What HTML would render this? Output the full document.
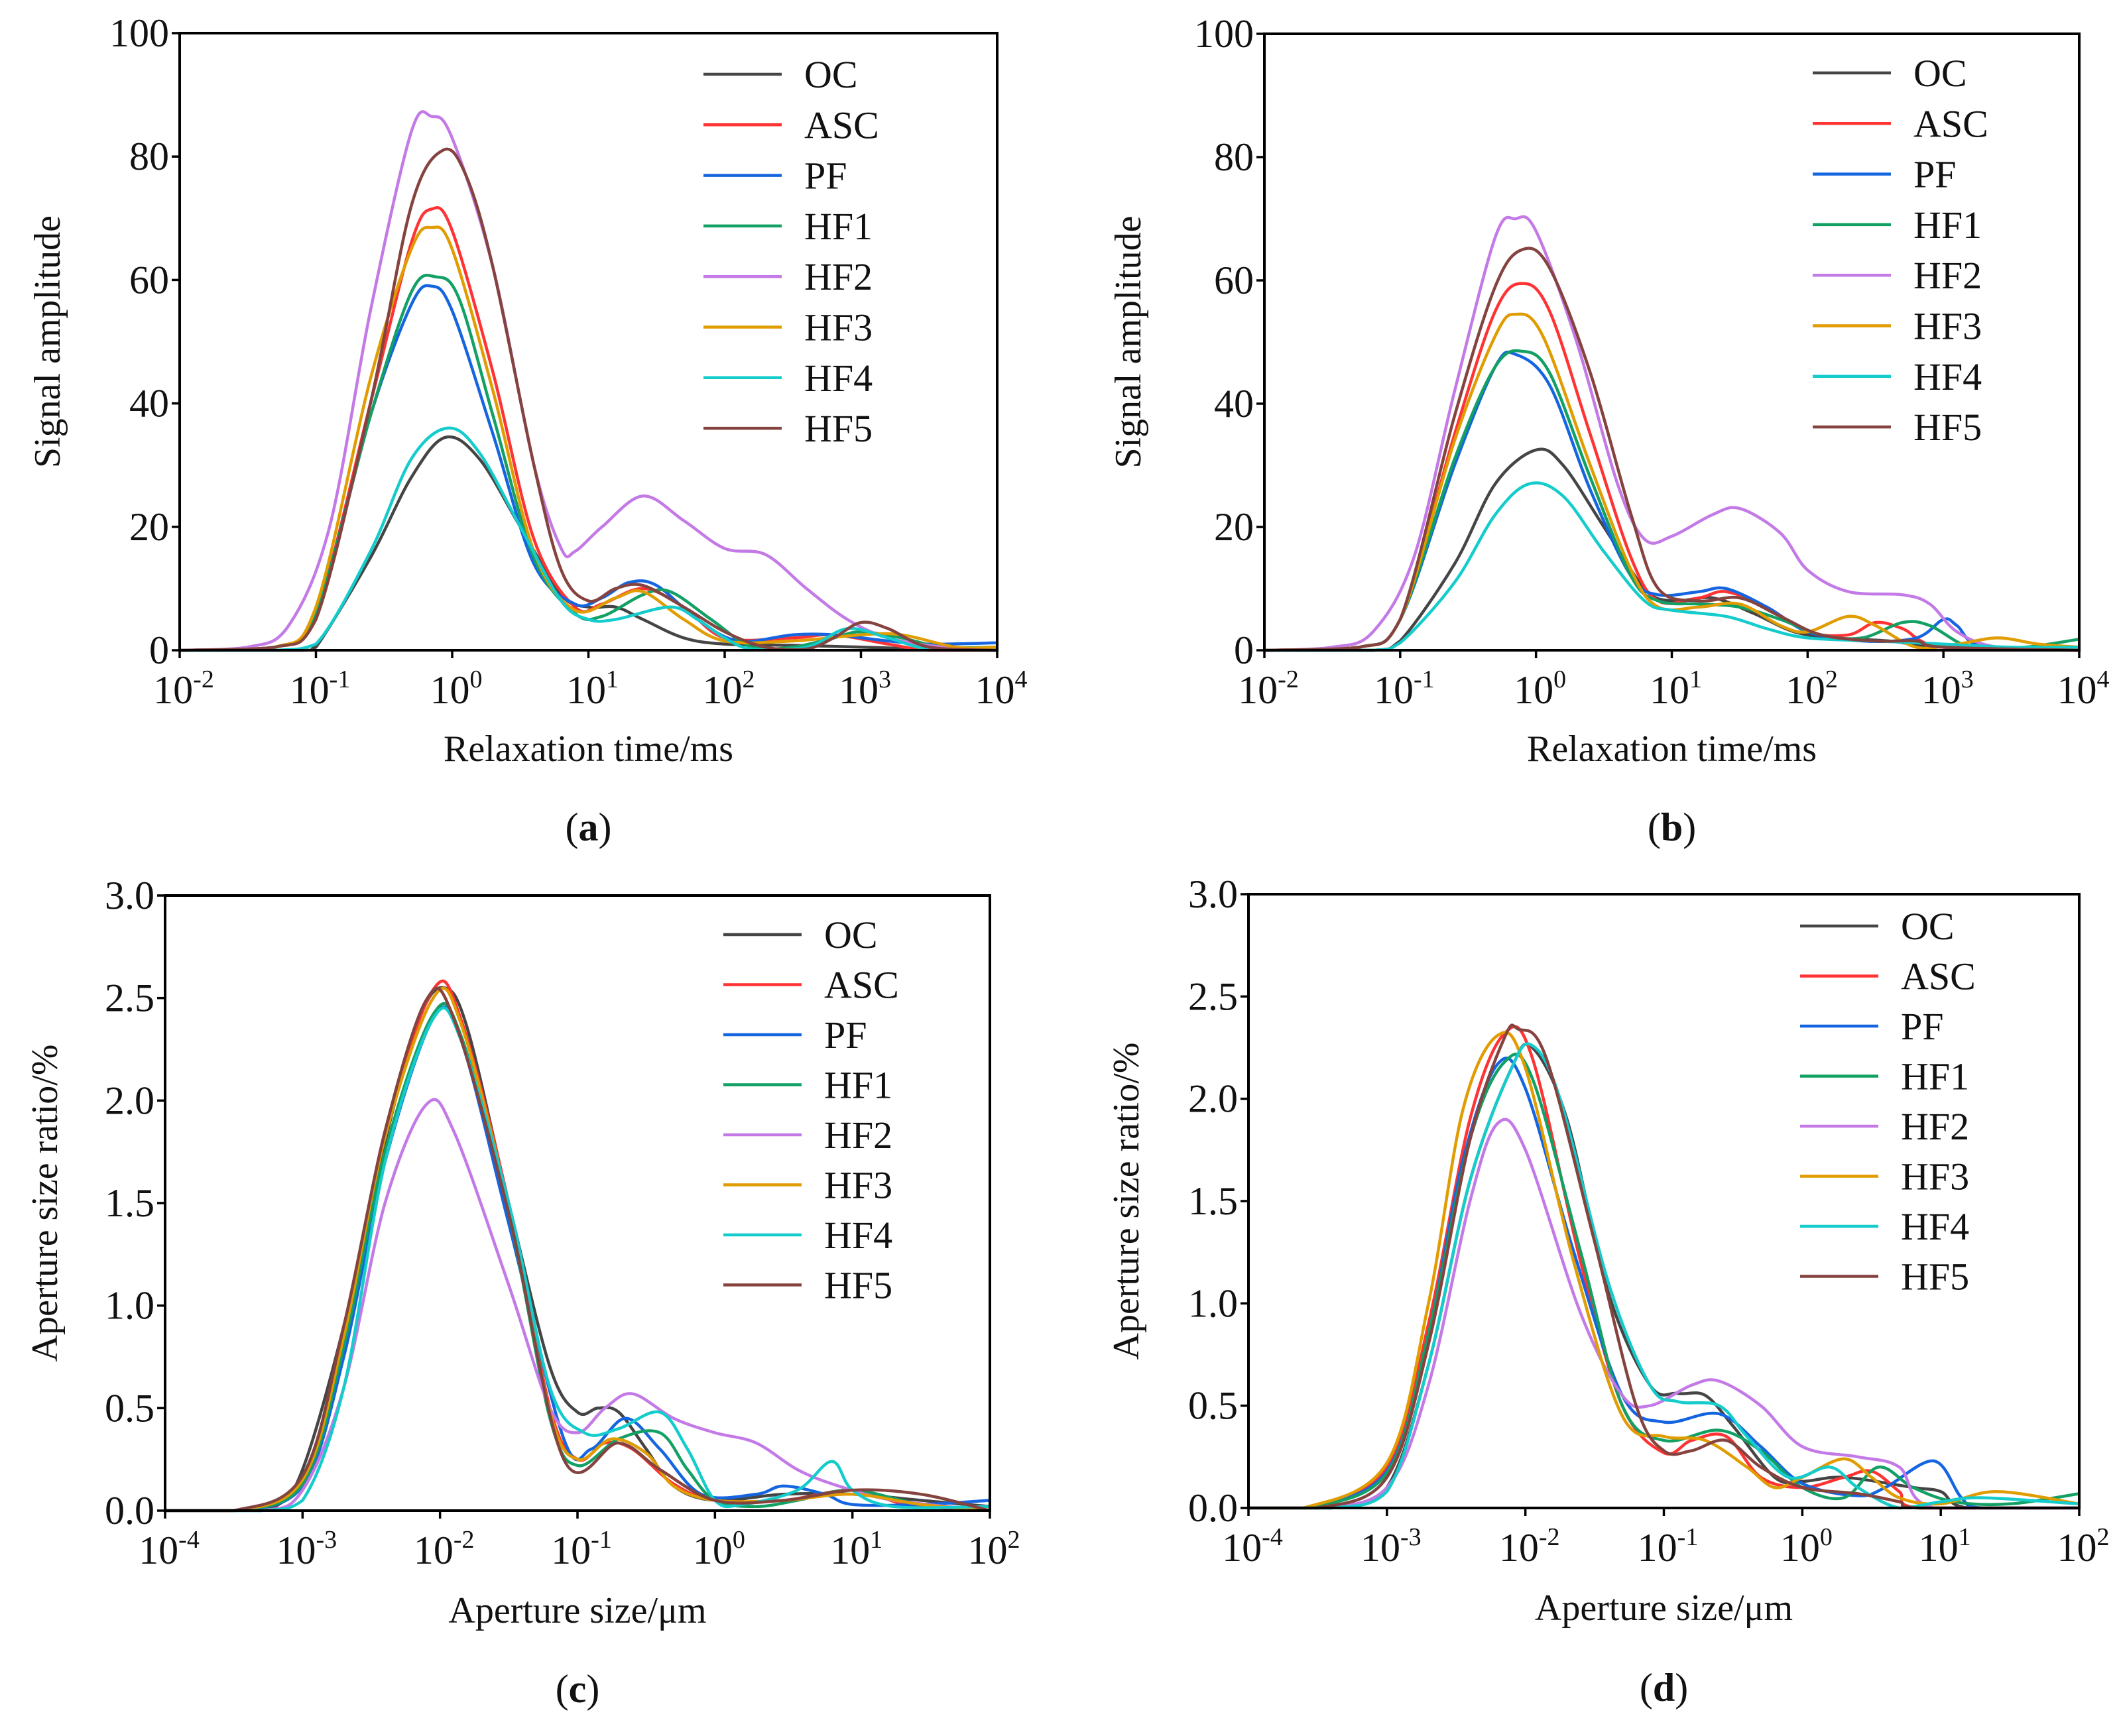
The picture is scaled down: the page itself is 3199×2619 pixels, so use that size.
<!DOCTYPE html>
<html><head><meta charset="utf-8"><style>
html,body{margin:0;padding:0;background:#fff;}
svg, svg text{font-family:"Liberation Serif","Times New Roman",serif;}
svg text{fill:#111;}
</style></head><body>
<svg id="fig" width="3199" height="2614" viewBox="0 0 3199 2614" font-family="Liberation Serif, serif" xmlns="http://www.w3.org/2000/svg"></svg>
<script>
const seriesNames = ["OC","ASC","PF","HF1","HF2","HF3","HF4","HF5"];
const seriesColors = ["#454545","#ff3333","#1565e0","#12a064","#c47ae6","#e09c00","#14cccc","#85433f"];
const xTicksA = [-2,-1,0,1,2,3,4];
const yTicksA = [0,20,40,60,80,100];
const xTicksC = [-4,-3,-2,-1,0,1,2];
const yTicksC = [0,0.5,1.0,1.5,2.0,2.5,3.0];
const dataA = {
 OC:[[-2,0],[-1.1,0],[-1,0.5],[-0.6,15],[-0.3,28],[-0.05,34.5],[0.2,31],[0.5,20],[0.8,9],[1,7],[1.2,7],[1.4,5],[1.7,2],[2,1],[2.5,0.8],[3,0.5],[3.5,0.2],[4,0]],
 ASC:[[-2,0],[-1.3,0.5],[-1,6],[-0.6,40],[-0.3,66],[-0.15,71.5],[0,68],[0.3,45],[0.6,18],[0.9,7],[1.1,7.5],[1.4,10],[1.7,7],[2,2],[2.5,2],[2.8,2.5],[3.2,1],[3.5,0],[4,0]],
 PF:[[-2,0],[-1.3,0.5],[-1,6],[-0.6,38],[-0.3,56],[-0.15,59],[0,55],[0.3,35],[0.6,14],[0.9,7.5],[1.1,8.5],[1.3,11],[1.5,10.5],[1.8,5],[2.1,1.5],[2.5,2.5],[2.8,2.5],[3.2,1.5],[3.5,1],[4,1.2]],
 HF1:[[-2,0],[-1.3,0.5],[-1,6],[-0.6,38],[-0.3,58],[-0.12,60.5],[0.05,57],[0.3,38],[0.6,15],[0.9,6],[1.1,5.5],[1.4,9],[1.6,9.5],[1.9,5],[2.2,0.5],[2.5,0.5],[2.8,2],[3,3],[3.3,2],[3.6,0.5],[4,0.5]],
 HF2:[[-2,0],[-1.5,0.5],[-1.2,4],[-0.9,20],[-0.6,55],[-0.3,84],[-0.15,86.5],[0,83],[0.3,62],[0.6,30],[0.8,16.5],[0.9,16],[1.1,20],[1.4,25],[1.7,21],[2,16.5],[2.3,15.5],[2.6,10],[2.9,5],[3.2,2],[3.6,0.5],[4,0]],
 HF3:[[-2,0],[-1.3,0.5],[-1,7],[-0.6,44],[-0.3,65],[-0.15,68.5],[0,65],[0.3,42],[0.6,16],[0.9,6.5],[1.2,8.5],[1.4,9.5],[1.7,5],[2,1.5],[2.5,1.5],[3,2.5],[3.3,2.5],[3.7,0.5],[4,0.5]],
 HF4:[[-2,0],[-1.3,0],[-1,1],[-0.6,16],[-0.3,31],[-0.03,36],[0.2,32],[0.5,20],[0.8,8],[1,5],[1.2,5],[1.6,7],[1.8,5],[2,2],[2.2,0.2],[2.6,0.5],[2.9,3.5],[3.2,2],[3.5,0.2],[4,0]],
 HF5:[[-2,0],[-1.3,0.5],[-1,5],[-0.6,40],[-0.3,72],[-0.07,81],[0.1,77],[0.3,62],[0.6,30],[0.8,13],[1,8],[1.2,10],[1.4,10.5],[1.7,7],[2,3],[2.3,0.5],[2.6,0.2],[2.8,2],[3,4.5],[3.2,3.5],[3.5,0.5],[4,0]]
};
const dataB = {
 OC:[[-2,0],[-1.2,0],[-1,1.5],[-0.6,14],[-0.3,27],[0,32.5],[0.2,30],[0.5,20],[0.8,10],[1,8],[1.3,8.5],[1.6,6],[1.9,3],[2.2,2],[2.6,1.5],[3,0.5],[4,0]],
 ASC:[[-2,0],[-1.3,0.5],[-1,5],[-0.6,35],[-0.3,55],[-0.1,59.5],[0.1,55],[0.4,35],[0.7,15],[0.9,8],[1.2,8.5],[1.4,9.5],[1.7,7],[2,3],[2.3,2.5],[2.5,4.5],[2.7,3.5],[3,0.5],[4,0]],
 PF:[[-2,0],[-1.3,0.5],[-1,5],[-0.6,30],[-0.3,46],[-0.15,48],[0.1,43],[0.4,26],[0.7,12],[0.9,9],[1.2,9.5],[1.4,10],[1.7,7],[2,3],[2.4,1.5],[2.8,2],[3,5],[3.1,4],[3.3,0.5],[4,0.5]],
 HF1:[[-2,0],[-1.3,0.5],[-1,5],[-0.6,31],[-0.3,46],[-0.1,48.5],[0.1,45],[0.4,28],[0.7,12],[0.9,8],[1.2,7.5],[1.5,7],[1.8,5],[2.1,2.5],[2.4,2],[2.7,4.5],[2.9,4],[3.2,0.5],[3.6,0.5],[4,1.8]],
 HF2:[[-2,0],[-1.5,0.5],[-1.2,3],[-0.9,15],[-0.6,42],[-0.3,67],[-0.15,70],[0,68],[0.3,50],[0.6,27],[0.8,18],[1,18.5],[1.3,22],[1.5,23],[1.8,19],[2,13],[2.3,9.5],[2.7,9],[2.9,7.5],[3.1,3],[3.4,0.5],[4,0]],
 HF3:[[-2,0],[-1.3,0.5],[-1,5],[-0.6,34],[-0.3,51],[-0.15,54.5],[0.05,51],[0.4,30],[0.7,13],[0.9,7],[1.2,7],[1.5,7.5],[1.8,4],[2,3],[2.3,5.5],[2.5,4],[2.8,0.5],[3.1,1],[3.4,2],[3.7,1],[4,0.5]],
 HF4:[[-2,0],[-1.2,0],[-1,1.2],[-0.6,11],[-0.3,22],[-0.05,27],[0.2,25],[0.5,16],[0.8,8],[1,6.5],[1.4,5.5],[1.7,3.5],[2,2],[2.5,1.5],[3,1],[3.5,0.5],[4,0.5]],
 HF5:[[-2,0],[-1.3,0.5],[-1,5],[-0.6,38],[-0.3,59],[-0.1,65],[0.1,62],[0.4,45],[0.7,22],[0.9,10],[1.2,8],[1.5,8.5],[1.8,5.5],[2.1,2.5],[2.5,1.5],[2.8,1.5],[3,0.5],[4,0]]
};
const dataC = {
 OC:[[-4,0],[-3.5,0],[-3.2,0.02],[-3,0.2],[-2.7,0.9],[-2.4,1.8],[-2.15,2.4],[-1.97,2.55],[-1.8,2.35],[-1.5,1.5],[-1.2,0.7],[-1,0.48],[-0.85,0.5],[-0.7,0.48],[-0.5,0.3],[-0.3,0.12],[0,0.05],[0.5,0.08],[1,0.08],[1.5,0.05],[2,0.02]],
 ASC:[[-4,0],[-3.5,0],[-3,0.15],[-2.7,0.85],[-2.4,1.85],[-2.05,2.54],[-1.85,2.4],[-1.5,1.5],[-1.2,0.5],[-1,0.25],[-0.8,0.33],[-0.6,0.3],[-0.3,0.13],[0,0.05],[0.5,0.05],[1,0.1],[1.4,0.03],[2,0]],
 PF:[[-4,0],[-3.5,0],[-3,0.12],[-2.7,0.75],[-2.4,1.7],[-2.05,2.4],[-1.85,2.3],[-1.5,1.4],[-1.1,0.35],[-0.9,0.3],[-0.65,0.45],[-0.4,0.3],[-0.1,0.08],[0.3,0.08],[0.5,0.12],[0.8,0.08],[1,0.03],[1.5,0.03],[2,0.05]],
 HF1:[[-4,0],[-3.5,0],[-3,0.13],[-2.7,0.8],[-2.4,1.75],[-2.05,2.42],[-1.85,2.32],[-1.5,1.45],[-1.2,0.45],[-1,0.22],[-0.7,0.35],[-0.4,0.38],[-0.2,0.2],[0,0.05],[0.3,0.02],[0.6,0.05],[1,0.1],[1.5,0.03],[2,0]],
 HF2:[[-4,0],[-3.3,0],[-3,0.1],[-2.7,0.6],[-2.4,1.5],[-2.1,1.98],[-1.9,1.85],[-1.5,1.1],[-1.2,0.5],[-1,0.38],[-0.8,0.5],[-0.6,0.57],[-0.3,0.45],[0,0.38],[0.3,0.33],[0.6,0.2],[0.9,0.12],[1.3,0.05],[2,0]],
 HF3:[[-4,0],[-3.5,0],[-3,0.15],[-2.7,0.85],[-2.4,1.82],[-2.05,2.5],[-1.85,2.38],[-1.5,1.48],[-1.2,0.48],[-1,0.25],[-0.75,0.35],[-0.5,0.28],[-0.3,0.12],[0,0.05],[0.5,0.05],[1,0.08],[1.5,0.03],[2,0]],
 HF4:[[-4,0],[-3.3,0],[-3,0.05],[-2.7,0.6],[-2.4,1.7],[-2.05,2.4],[-1.85,2.3],[-1.5,1.5],[-1.2,0.6],[-0.95,0.38],[-0.7,0.4],[-0.4,0.48],[-0.2,0.3],[0,0.05],[0.2,0.03],[0.6,0.1],[0.85,0.24],[1,0.1],[1.3,0.02],[2,0.02]],
 HF5:[[-4,0],[-3.5,0],[-3,0.17],[-2.7,0.9],[-2.4,1.85],[-2.1,2.49],[-1.9,2.4],[-1.5,1.45],[-1.1,0.25],[-0.7,0.33],[-0.4,0.2],[0,0.05],[0.5,0.05],[1,0.1],[1.5,0.08],[2,0]]
};
const dataD = {
 OC:[[-4,0],[-3.4,0],[-3,0.1],[-2.7,0.7],[-2.4,1.6],[-2.1,2.15],[-1.95,2.25],[-1.7,1.9],[-1.4,1.05],[-1.1,0.6],[-0.9,0.56],[-0.7,0.55],[-0.5,0.4],[-0.2,0.15],[0,0.13],[0.3,0.15],[0.8,0.1],[1,0.08],[1.2,0],[2,0]],
 ASC:[[-4,0],[-3.6,0],[-3,0.2],[-2.7,0.9],[-2.4,1.9],[-2.15,2.32],[-1.95,2.2],[-1.6,1.2],[-1.3,0.5],[-1,0.27],[-0.8,0.33],[-0.55,0.35],[-0.3,0.15],[0,0.1],[0.3,0.15],[0.5,0.18],[0.7,0.08],[0.85,0],[2,0]],
 PF:[[-4,0],[-3.6,0],[-3,0.18],[-2.7,0.85],[-2.45,1.7],[-2.2,2.17],[-2.0,2.05],[-1.65,1.25],[-1.3,0.55],[-1,0.42],[-0.6,0.46],[-0.3,0.3],[0,0.12],[0.4,0.06],[0.6,0.1],[0.95,0.23],[1.15,0.05],[1.3,0],[2,0]],
 HF1:[[-4,0],[-3.6,0],[-3,0.17],[-2.7,0.85],[-2.4,1.8],[-2.15,2.18],[-1.95,2.1],[-1.6,1.25],[-1.3,0.5],[-1,0.33],[-0.6,0.38],[-0.3,0.28],[0,0.1],[0.3,0.05],[0.55,0.2],[0.8,0.1],[1.1,0.03],[1.5,0.02],[2,0.07]],
 HF2:[[-4,0],[-3.5,0],[-3,0.1],[-2.7,0.6],[-2.4,1.5],[-2.2,1.88],[-2,1.75],[-1.6,0.95],[-1.3,0.55],[-1.1,0.5],[-0.8,0.6],[-0.6,0.62],[-0.3,0.5],[0,0.3],[0.4,0.25],[0.7,0.2],[0.95,0],[2,0]],
 HF3:[[-4,0],[-3.6,0],[-3,0.22],[-2.7,1.0],[-2.45,1.95],[-2.2,2.31],[-2.0,2.15],[-1.65,1.2],[-1.3,0.45],[-1,0.35],[-0.7,0.33],[-0.4,0.2],[-0.2,0.1],[0,0.15],[0.3,0.24],[0.5,0.15],[0.7,0.05],[1,0.02],[1.4,0.08],[2,0.02]],
 HF4:[[-4,0],[-3.4,0],[-3,0.08],[-2.7,0.7],[-2.4,1.6],[-2.1,2.15],[-1.95,2.26],[-1.75,2.0],[-1.4,1.1],[-1.1,0.6],[-0.9,0.52],[-0.6,0.5],[-0.4,0.35],[-0.1,0.15],[0.2,0.2],[0.4,0.1],[0.7,0],[1,0.03],[1.3,0.05],[2,0.02]],
 HF5:[[-4,0],[-3.5,0],[-3,0.15],[-2.7,0.8],[-2.4,1.8],[-2.15,2.3],[-2.05,2.34],[-1.85,2.2],[-1.5,1.3],[-1.2,0.5],[-1,0.28],[-0.8,0.28],[-0.55,0.33],[-0.3,0.2],[0,0.1],[0.4,0.07],[0.7,0.03],[0.85,0],[2,0]]
};

const NS="http://www.w3.org/2000/svg";
const svg=document.getElementById('fig');
const FF='"Liberation Serif", serif';
function mk(tag,attrs,parent){const e=document.createElementNS(NS,tag);for(const k in attrs)e.setAttribute(k,attrs[k]);if(tag==='text')e.setAttribute('font-family',FF);(parent||svg).appendChild(e);return e;}

function panel(p){
  const g=mk('g',{});
  
  
  const xs=v=>p.L+(v-p.xmin)/(p.xmax-p.xmin)*(p.R-p.L);
  const ys=v=>p.B-(v-p.ymin)/(p.ymax-p.ymin)*(p.B-p.T);
  seriesNames.forEach((n,i)=>{
    const pts=p.data[n].map(d=>[xs(d[0]),ys(d[1])]);
    let d='M'+pts[0][0].toFixed(1)+','+pts[0][1].toFixed(1);
    for(let k=0;k<pts.length-1;k++){
      const p0=pts[Math.max(k-1,0)],p1=pts[k],p2=pts[k+1],p3=pts[Math.min(k+2,pts.length-1)];
      let c1y=p1[1]+(p2[1]-p0[1])/6, c2y=p2[1]-(p3[1]-p1[1])/6;
      c1y=Math.min(c1y,p.B); c2y=Math.min(c2y,p.B);
      d+=` C${(p1[0]+(p2[0]-p0[0])/6).toFixed(1)},${c1y.toFixed(1)} ${(p2[0]-(p3[0]-p1[0])/6).toFixed(1)},${c2y.toFixed(1)} ${p2[0].toFixed(1)},${p2[1].toFixed(1)}`;
    }
    const path=mk('path',{d:d,fill:'none',stroke:seriesColors[i],'stroke-width':4.5,'stroke-linejoin':'round'},g);
    
    
  });
  const fr=mk('rect',{x:p.L,y:p.T,width:p.R-p.L,height:p.B-p.T,fill:'none',stroke:'#000','stroke-width':4},g);
  
  
  p.yt.forEach(v=>{
    const y=ys(v);
    mk('line',{x1:p.L-12,x2:p.L,y1:y,y2:y,stroke:'#000','stroke-width':3.5},g);
    const t=mk('text',{x:p.L-16,y:y+20,'text-anchor':'end','font-size':60},g);
    t.textContent=p.yfmt(v);
    
    
  });
  p.xt.forEach(v=>{
    const x=xs(v);
    mk('line',{x1:x,x2:x,y1:p.B,y2:p.B+12,stroke:'#000','stroke-width':3.5},g);
    const t=mk('text',{x:x+6,y:p.B+80,'text-anchor':'middle','font-size':60},g);
    
    
    t.textContent='10';
    const s=mk('tspan',{dy:-24,'font-size':38},t);
    s.textContent=String(v);
  });
  const xt=mk('text',{x:(p.L+p.R)/2,y:p.xtY,'text-anchor':'middle','font-size':56},g);
  xt.textContent=p.xtitle;
  
  
  const yt=mk('text',{x:0,y:0,'text-anchor':'middle','font-size':56,transform:`translate(${p.ytX},${(p.T+p.B)/2}) rotate(-90)`},g);
  yt.textContent=p.ytitle;
  
  
  const pl=mk('text',{x:(p.L+p.R)/2,y:p.lblY,'text-anchor':'middle','font-size':60},g);
  pl.textContent='(';
  const b=mk('tspan',{'font-weight':'bold'},pl); b.textContent=p.id;
  const c=mk('tspan',{},pl); c.textContent=')';
  
  
  seriesNames.forEach((n,i)=>{
    const y=p.legY+i*p.legDy;
    const lg=mk('g',{},g);
    
    
    mk('line',{x1:p.legX,x2:p.legX+118,y1:y,y2:y,stroke:seriesColors[i],'stroke-width':4.5},lg);
    const t=mk('text',{x:p.legX+152,y:y+20,'font-size':58},lg);
    t.textContent=n;
  });
}
const intF=v=>String(v), decF=v=>v.toFixed(1);
panel({id:'a',data:dataA,L:271,R:1504,T:50,B:981,xmin:-2,xmax:4,ymin:0,ymax:100,xt:xTicksA,yt:yTicksA,yfmt:intF,xtitle:'Relaxation time/ms',ytitle:'Signal amplitude',xtY:1148,ytX:90,lblY:1268,legX:1061,legY:112,legDy:76.3});
panel({id:'b',data:dataB,L:1907,R:3136,T:51,B:981,xmin:-2,xmax:4,ymin:0,ymax:100,xt:xTicksA,yt:yTicksA,yfmt:intF,xtitle:'Relaxation time/ms',ytitle:'Signal amplitude',xtY:1148,ytX:1720,lblY:1268,legX:2734,legY:110,legDy:76.3});
panel({id:'c',data:dataC,L:249,R:1493,T:1351,B:2279,xmin:-4,xmax:2,ymin:0,ymax:3,xt:xTicksC,yt:yTicksC,yfmt:decF,xtitle:'Aperture size/μm',ytitle:'Aperture size ratio/%',xtY:2448,ytX:86,lblY:2568,legX:1091,legY:1410,legDy:75.5});
panel({id:'d',data:dataD,L:1883,R:3136,T:1349,B:2275,xmin:-4,xmax:2,ymin:0,ymax:3,xt:xTicksC,yt:yTicksC,yfmt:decF,xtitle:'Aperture size/μm',ytitle:'Aperture size ratio/%',xtY:2444,ytX:1717,lblY:2566,legX:2715,legY:1397,legDy:75.5});
</script>
</body></html>
